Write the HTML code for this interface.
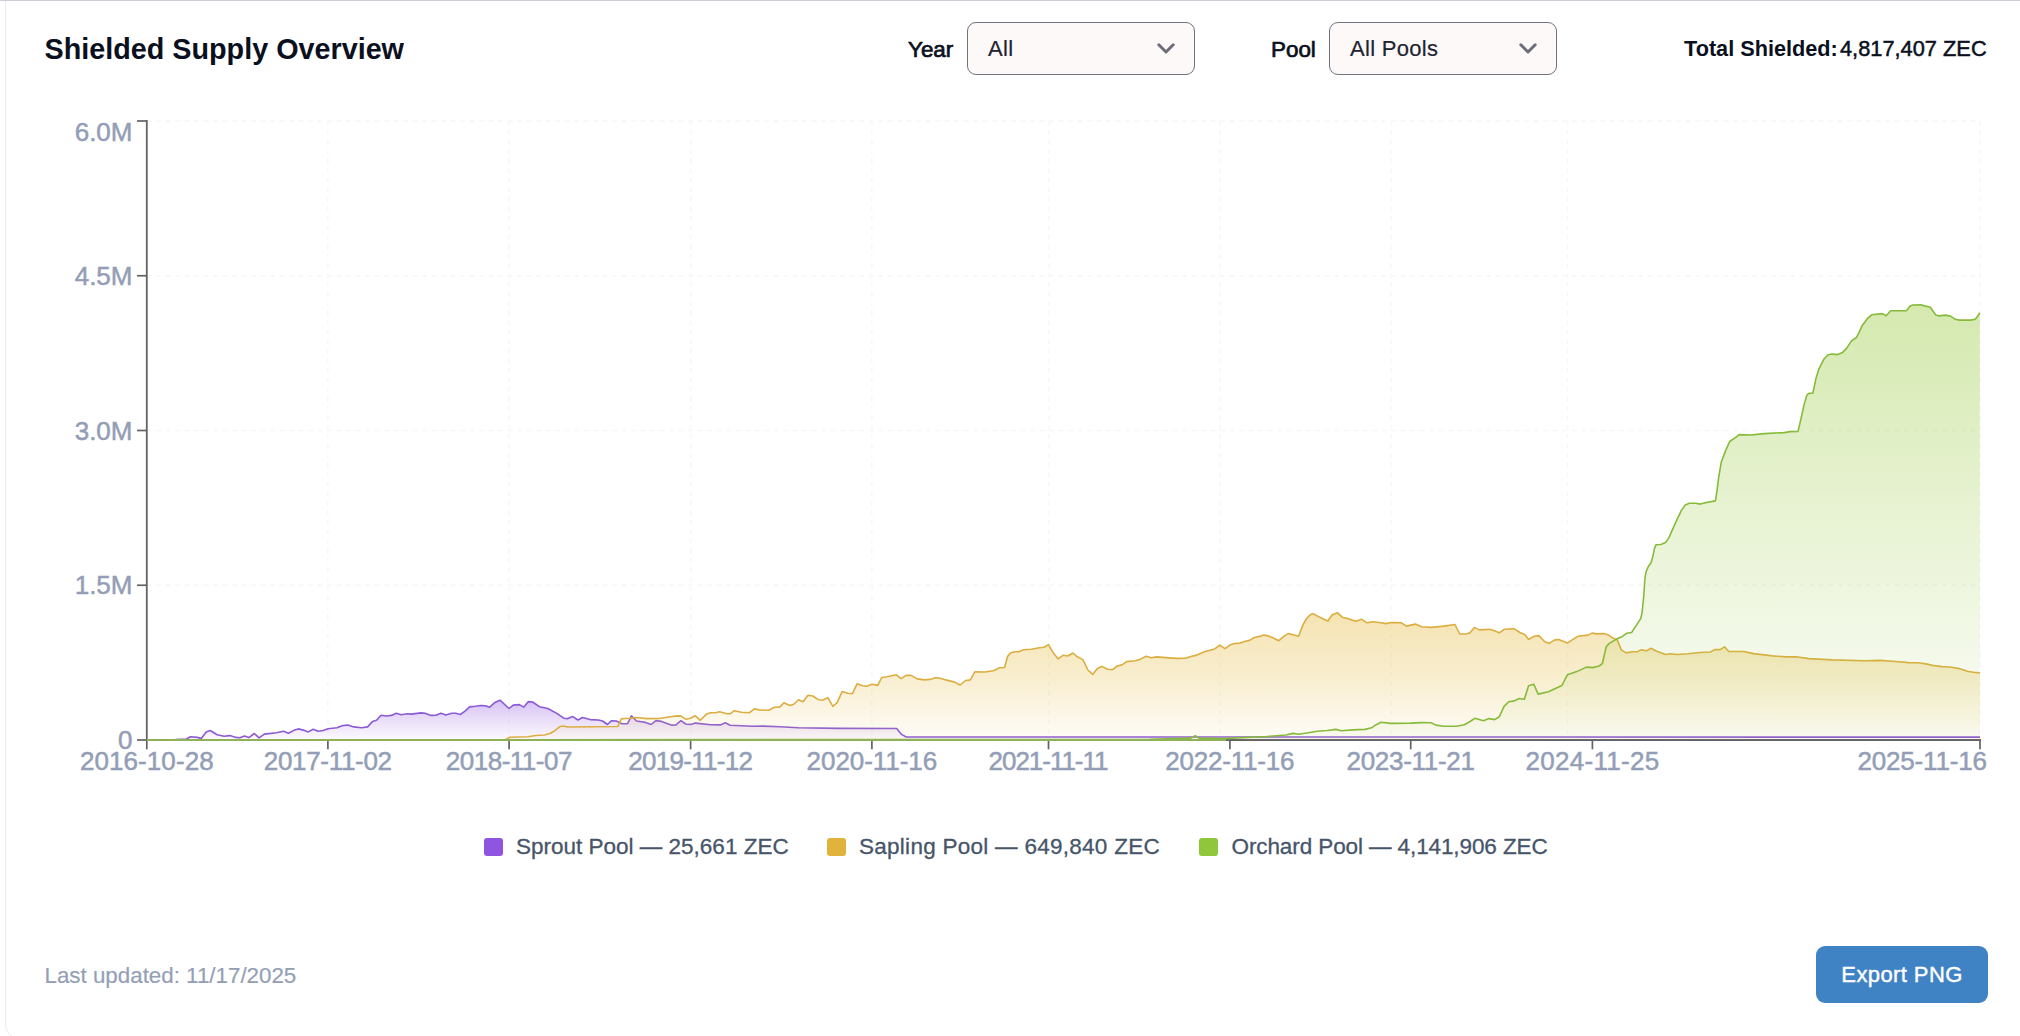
<!DOCTYPE html>
<html lang="en">
<head>
<meta charset="utf-8">
<title>Shielded Supply Overview</title>
<style>
html,body{margin:0;padding:0;background:#fff;}
body{width:2020px;height:1036px;position:relative;overflow:hidden;font-family:"Liberation Sans",Arial,sans-serif;color:#0f172a;}
.topline{position:absolute;left:0;top:0;width:2020px;height:1px;background:#cbcfd5;}
.card{position:absolute;left:5px;top:-20px;width:2100px;height:1059px;border:1px solid #ebecee;border-radius:0 0 0 14px;box-sizing:border-box;background:#fff;}
.chart{position:absolute;left:0;top:0;}
.chart text{font-family:"Liberation Sans",Arial,sans-serif;}
.t{position:absolute;white-space:nowrap;line-height:1;}
.title{left:44.5px;top:34.6px;font-size:28.75px;font-weight:700;color:#0b1020;}
.lbl{font-size:22.4px;font-weight:400;color:#0b1020;top:38.5px;-webkit-text-stroke:0.7px #0b1020;}
.sel{position:absolute;top:22px;height:53px;width:228px;box-sizing:border-box;border:1.3px solid #73737f;border-radius:9px;background:#fdf9f8;}
.sel span{position:absolute;left:20px;top:15px;font-size:22px;letter-spacing:0.3px;line-height:1;color:#1f2433;white-space:nowrap;-webkit-text-stroke:0.2px #1f2433;}
.sel svg{position:absolute;left:189.3px;top:20.4px;}
.total{top:38.1px;color:#0b1020;}
.tb{font-weight:700;font-size:21.7px;}
.tn{font-size:21.8px;-webkit-text-stroke:0.5px #0b1020;}
.leg{font-size:22.5px;color:#475569;top:836.3px;-webkit-text-stroke:0.3px #475569;}
.sq{position:absolute;top:838px;width:18.6px;height:18.2px;border-radius:3px;}
.upd{left:44.5px;top:964.6px;font-size:22.35px;color:#949fb6;-webkit-text-stroke:0.2px #949fb6;}
.btn{position:absolute;left:1816px;top:946px;width:172px;height:57px;border-radius:9px;background:#4083c5;color:#fff;font-size:22px;letter-spacing:0.4px;text-align:center;line-height:57px;-webkit-text-stroke:0.4px #fff;}
</style>
</head>
<body>
<div class="card"></div>
<div class="topline"></div>
<svg class="chart" width="2020" height="1036" viewBox="0 0 2020 1036">
<defs>
<linearGradient id="gp" x1="0" y1="0" x2="0" y2="1"><stop offset="0" stop-color="#9055e0" stop-opacity="0.36"/><stop offset="0.5" stop-color="#9055e0" stop-opacity="0.19"/><stop offset="1" stop-color="#9055e0" stop-opacity="0.03"/></linearGradient>
<linearGradient id="gy" x1="0" y1="0" x2="0" y2="1"><stop offset="0" stop-color="#e6bd48" stop-opacity="0.42"/><stop offset="0.5" stop-color="#e6bd48" stop-opacity="0.27"/><stop offset="1" stop-color="#e6bd48" stop-opacity="0.04"/></linearGradient>
<linearGradient id="gg" x1="0" y1="0" x2="0" y2="1"><stop offset="0" stop-color="#98c93c" stop-opacity="0.41"/><stop offset="0.5" stop-color="#98c93c" stop-opacity="0.22"/><stop offset="1" stop-color="#98c93c" stop-opacity="0.04"/></linearGradient>
</defs>
<g stroke="#f6f6f8" stroke-width="1.3" stroke-dasharray="4.5 5" fill="none">
<line x1="146.8" y1="121.0" x2="1980.0" y2="121.0"/>
<line x1="146.8" y1="275.75" x2="1980.0" y2="275.75"/>
<line x1="146.8" y1="430.5" x2="1980.0" y2="430.5"/>
<line x1="146.8" y1="585.25" x2="1980.0" y2="585.25"/>
<line x1="327.9" y1="121.0" x2="327.9" y2="740.0"/>
<line x1="509.1" y1="121.0" x2="509.1" y2="740.0"/>
<line x1="690.7" y1="121.0" x2="690.7" y2="740.0"/>
<line x1="871.9" y1="121.0" x2="871.9" y2="740.0"/>
<line x1="1048.9" y1="121.0" x2="1048.9" y2="740.0"/>
<line x1="1220.0" y1="121.0" x2="1220.0" y2="740.0"/>
<line x1="1391.1" y1="121.0" x2="1391.1" y2="740.0"/>
<line x1="1567.7" y1="121.0" x2="1567.7" y2="740.0"/>
<line x1="1979.7" y1="121.0" x2="1979.7" y2="740.0"/>
</g>
<g stroke="#636365" stroke-width="1.8" fill="none">
<line x1="146.8" y1="120.0" x2="146.8" y2="741.0"/>
<line x1="146.8" y1="740.0" x2="1981.0" y2="740.0"/>
<line x1="137.0" y1="121.0" x2="146.8" y2="121.0" stroke-width="1.7"/>
<line x1="137.0" y1="275.75" x2="146.8" y2="275.75" stroke-width="1.7"/>
<line x1="137.0" y1="430.5" x2="146.8" y2="430.5" stroke-width="1.7"/>
<line x1="137.0" y1="585.25" x2="146.8" y2="585.25" stroke-width="1.7"/>
<line x1="137.0" y1="740.0" x2="146.8" y2="740.0" stroke-width="1.7"/>
<line x1="146.8" y1="740.0" x2="146.8" y2="749.3" stroke-width="1.7"/>
<line x1="327.9" y1="740.0" x2="327.9" y2="749.3" stroke-width="1.7"/>
<line x1="509.1" y1="740.0" x2="509.1" y2="749.3" stroke-width="1.7"/>
<line x1="690.6" y1="740.0" x2="690.6" y2="749.3" stroke-width="1.7"/>
<line x1="871.9" y1="740.0" x2="871.9" y2="749.3" stroke-width="1.7"/>
<line x1="1048.5" y1="740.0" x2="1048.5" y2="749.3" stroke-width="1.7"/>
<line x1="1229.9" y1="740.0" x2="1229.9" y2="749.3" stroke-width="1.7"/>
<line x1="1410.7" y1="740.0" x2="1410.7" y2="749.3" stroke-width="1.7"/>
<line x1="1592.4" y1="740.0" x2="1592.4" y2="749.3" stroke-width="1.7"/>
<line x1="1980.0" y1="740.0" x2="1980.0" y2="749.3" stroke-width="1.7"/>
</g>
<path d="M175.5,739.6 L186.4,739 L190.4,736.8 L197.3,737.4 L201.3,738.4 L206.2,732.1 L210.2,730.5 L217.1,734.7 L224.1,736.2 L230,735.6 L235.9,737.4 L239.9,737.8 L244.5,736 L248.8,737.6 L254.4,733.5 L259.1,737.8 L264.3,734.1 L276.5,732.7 L283.5,731.3 L288.4,733.3 L294.4,730.1 L298.3,728.9 L303.3,730.1 L308.2,731.9 L313.2,729.3 L318.1,731.3 L323.1,730.5 L328,728.7 L336.9,727.7 L342.9,725.5 L347.8,725.1 L353.8,726.9 L361.7,727.7 L367.6,726.9 L372.6,721.4 L376.5,720.2 L381.1,715.2 L386.4,716 L391.4,715.4 L396.3,713.3 L401.3,714.7 L407.2,713.7 L411.2,714.1 L421.1,712.9 L425,713.3 L431,715.4 L435.9,715.2 L440.9,713.3 L445.8,715 L451.8,713.3 L455.7,713.3 L460.3,714.5 L464.7,711.3 L469.6,706.9 L475.5,706.3 L480.5,705.5 L485.4,705.7 L489.4,707.3 L494.4,702.8 L500,700.2 L509,708.5 L513.2,705.1 L519.4,704.6 L523.8,707.1 L528.4,701.6 L532.6,702 L539.5,706.7 L547.8,708.5 L556.8,713.4 L563.8,718.2 L567.9,718.6 L572.8,716.6 L577.9,720 L582.5,717.5 L590.1,719.6 L598.4,720 L602.6,721 L607.4,724.5 L611.6,720.7 L616.4,721 L622,723.8 L627.5,723.8 L631.4,715.9 L636.5,721 L645.6,722.4 L651.1,724.5 L655.9,720.6 L661.5,721.4 L671.9,725.2 L676,724.9 L680.9,720.7 L685.7,724 L690.6,724.5 L695.5,723.1 L710.7,724.7 L720.4,724.9 L725.3,722.7 L730.1,725.2 L752.3,726.3 L763.4,726.1 L780,726.7 L798.5,727.7 L838.1,728.4 L896.7,728.5 L901.5,734.4 L906.2,737 L1090,737 L1980,737.1 L1980,740.0 L175.5,740.0 Z" fill="url(#gp)" stroke="none"/>
<path d="M175.5,739.6 L186.4,739 L190.4,736.8 L197.3,737.4 L201.3,738.4 L206.2,732.1 L210.2,730.5 L217.1,734.7 L224.1,736.2 L230,735.6 L235.9,737.4 L239.9,737.8 L244.5,736 L248.8,737.6 L254.4,733.5 L259.1,737.8 L264.3,734.1 L276.5,732.7 L283.5,731.3 L288.4,733.3 L294.4,730.1 L298.3,728.9 L303.3,730.1 L308.2,731.9 L313.2,729.3 L318.1,731.3 L323.1,730.5 L328,728.7 L336.9,727.7 L342.9,725.5 L347.8,725.1 L353.8,726.9 L361.7,727.7 L367.6,726.9 L372.6,721.4 L376.5,720.2 L381.1,715.2 L386.4,716 L391.4,715.4 L396.3,713.3 L401.3,714.7 L407.2,713.7 L411.2,714.1 L421.1,712.9 L425,713.3 L431,715.4 L435.9,715.2 L440.9,713.3 L445.8,715 L451.8,713.3 L455.7,713.3 L460.3,714.5 L464.7,711.3 L469.6,706.9 L475.5,706.3 L480.5,705.5 L485.4,705.7 L489.4,707.3 L494.4,702.8 L500,700.2 L509,708.5 L513.2,705.1 L519.4,704.6 L523.8,707.1 L528.4,701.6 L532.6,702 L539.5,706.7 L547.8,708.5 L556.8,713.4 L563.8,718.2 L567.9,718.6 L572.8,716.6 L577.9,720 L582.5,717.5 L590.1,719.6 L598.4,720 L602.6,721 L607.4,724.5 L611.6,720.7 L616.4,721 L622,723.8 L627.5,723.8 L631.4,715.9 L636.5,721 L645.6,722.4 L651.1,724.5 L655.9,720.6 L661.5,721.4 L671.9,725.2 L676,724.9 L680.9,720.7 L685.7,724 L690.6,724.5 L695.5,723.1 L710.7,724.7 L720.4,724.9 L725.3,722.7 L730.1,725.2 L752.3,726.3 L763.4,726.1 L780,726.7 L798.5,727.7 L838.1,728.4 L896.7,728.5 L901.5,734.4 L906.2,737 L1090,737 L1980,737.1" fill="none" stroke="#8c5ad6" stroke-width="1.6" stroke-linejoin="round" stroke-linecap="butt"/>
<path d="M505.5,739.8 L509.7,737.2 L527.7,736.7 L536,735.5 L544.4,735 L549.9,733.5 L554.8,730.7 L559.6,726.8 L563.1,726 L567.9,727 L617.8,726.5 L619.5,723.1 L621.3,718.9 L624.8,718.5 L630.3,718.2 L635.8,717.5 L646.9,718.6 L659.4,718.5 L670.5,716.8 L677.4,715.9 L680.9,716.1 L685.7,719.2 L690.6,718.2 L695.2,715.7 L700.3,720.3 L706.5,714.1 L710.7,712.7 L715.6,712.7 L719.7,711.7 L725.9,713.6 L730.1,713.8 L734.3,710.7 L741.2,712.3 L749.5,712.7 L754.4,708.8 L759.2,709.9 L768.9,710.3 L773.8,707.5 L780,706.9 L783.9,702.7 L789.8,705.5 L793.8,704.3 L798.5,699.7 L803,701.7 L808,695.2 L812.8,696 L818.3,699.7 L823.1,700 L827.8,697.6 L832.9,706.3 L837.3,702.4 L842.1,691.6 L847.6,693.2 L852.4,693.7 L857.1,683.8 L862.7,685.7 L866.6,686.2 L872.2,684.2 L877.7,685.4 L881.7,677.5 L887.2,676.7 L896.3,674.8 L901.2,678.6 L906.2,675.4 L911,675.4 L917.3,678.9 L924.5,679.9 L930,679.4 L935.5,677.8 L940.3,678.3 L945.8,679.9 L954.6,682.1 L960.1,685 L965.6,680.5 L970.4,679.9 L974.8,671.8 L984.7,672 L993.4,670.7 L999.7,667.8 L1004.5,667.5 L1007.6,656.4 L1010.8,652.8 L1014.8,651.7 L1018.7,651.7 L1023.5,649.8 L1031.4,649.3 L1039.3,647.7 L1044.1,647.2 L1048.5,644.6 L1053.6,653.3 L1058,658.8 L1063.1,655.3 L1067.8,656 L1072.9,653 L1077.3,656.8 L1082.9,659.6 L1087.9,670 L1092.7,674.4 L1097.4,668.4 L1101.9,666.4 L1107.7,669.2 L1112.5,669.7 L1117.2,666 L1122,664.9 L1126.7,661.6 L1135.4,660.8 L1141,658.9 L1146.1,656.2 L1151.3,657.8 L1156.8,656.9 L1165.5,657.6 L1176.6,658.4 L1185.3,658.3 L1190.9,656.5 L1195.6,655.4 L1205.1,651.5 L1214.7,648.9 L1219.7,645.1 L1225,648.6 L1230.5,644.7 L1235.2,643.4 L1240,643.1 L1245.5,641.2 L1249.5,640.4 L1254.3,637.5 L1259.8,636.4 L1263.8,635.1 L1268.5,635.9 L1273.3,638 L1278.8,640.7 L1284.4,635.9 L1288.3,633.6 L1293.9,635.1 L1298.6,636.3 L1302.6,625.6 L1306.5,618.5 L1310.5,614.6 L1313.2,613.8 L1317.6,616.1 L1322.4,618.5 L1327.9,621 L1331.9,615 L1337.4,612.7 L1342.2,617.2 L1347.7,618.5 L1355.6,621.2 L1361.7,619.3 L1367,622.8 L1373.1,621.7 L1379.4,622.5 L1385.7,623.6 L1391.3,622.5 L1401.1,622.8 L1406.6,626.1 L1415.3,624.1 L1421.7,626.8 L1431.2,627.4 L1443.9,626.1 L1455,624.5 L1459.7,634 L1466,634 L1470,632.8 L1474.4,627.4 L1479.5,629.9 L1489.8,629.3 L1494.6,630.7 L1499.3,632.8 L1504.1,629.3 L1514.4,628.8 L1519.9,632.5 L1524.7,634.4 L1528.6,639.4 L1534.2,636.3 L1538.9,635.6 L1544.5,641.5 L1549.2,643.4 L1554.8,639.9 L1558.7,639.6 L1567.4,643.1 L1572.2,639.9 L1577.7,636.3 L1588,635.1 L1592,633.1 L1596.7,633.9 L1603.9,633.6 L1608.6,635.1 L1613.4,638.3 L1617.3,639.9 L1621.3,649.9 L1626,652.9 L1632.4,651.8 L1637.1,651.8 L1641.1,649.9 L1646.6,650.7 L1651.1,648.3 L1656.1,651 L1665.6,654.5 L1670.4,653.7 L1676.7,654.5 L1687.8,653.8 L1699.5,652.5 L1710.6,652 L1714.6,649.6 L1720.1,649.6 L1724.5,646.8 L1728.8,651.5 L1743.9,651.5 L1753.4,653.6 L1772.4,655.9 L1786.6,656.9 L1796.1,656.7 L1808.8,658.6 L1832.6,659.9 L1864.3,660.7 L1880.1,660.4 L1895.9,661.5 L1908.6,662.6 L1918.1,662.8 L1926,663.9 L1932.4,665.4 L1941.9,666.6 L1949.8,667 L1959.3,668.6 L1967.2,671.3 L1973.6,672.3 L1979.9,672.9 L1979.9,740.0 L505.5,740.0 Z" fill="url(#gy)" stroke="none"/>
<path d="M505.5,739.8 L509.7,737.2 L527.7,736.7 L536,735.5 L544.4,735 L549.9,733.5 L554.8,730.7 L559.6,726.8 L563.1,726 L567.9,727 L617.8,726.5 L619.5,723.1 L621.3,718.9 L624.8,718.5 L630.3,718.2 L635.8,717.5 L646.9,718.6 L659.4,718.5 L670.5,716.8 L677.4,715.9 L680.9,716.1 L685.7,719.2 L690.6,718.2 L695.2,715.7 L700.3,720.3 L706.5,714.1 L710.7,712.7 L715.6,712.7 L719.7,711.7 L725.9,713.6 L730.1,713.8 L734.3,710.7 L741.2,712.3 L749.5,712.7 L754.4,708.8 L759.2,709.9 L768.9,710.3 L773.8,707.5 L780,706.9 L783.9,702.7 L789.8,705.5 L793.8,704.3 L798.5,699.7 L803,701.7 L808,695.2 L812.8,696 L818.3,699.7 L823.1,700 L827.8,697.6 L832.9,706.3 L837.3,702.4 L842.1,691.6 L847.6,693.2 L852.4,693.7 L857.1,683.8 L862.7,685.7 L866.6,686.2 L872.2,684.2 L877.7,685.4 L881.7,677.5 L887.2,676.7 L896.3,674.8 L901.2,678.6 L906.2,675.4 L911,675.4 L917.3,678.9 L924.5,679.9 L930,679.4 L935.5,677.8 L940.3,678.3 L945.8,679.9 L954.6,682.1 L960.1,685 L965.6,680.5 L970.4,679.9 L974.8,671.8 L984.7,672 L993.4,670.7 L999.7,667.8 L1004.5,667.5 L1007.6,656.4 L1010.8,652.8 L1014.8,651.7 L1018.7,651.7 L1023.5,649.8 L1031.4,649.3 L1039.3,647.7 L1044.1,647.2 L1048.5,644.6 L1053.6,653.3 L1058,658.8 L1063.1,655.3 L1067.8,656 L1072.9,653 L1077.3,656.8 L1082.9,659.6 L1087.9,670 L1092.7,674.4 L1097.4,668.4 L1101.9,666.4 L1107.7,669.2 L1112.5,669.7 L1117.2,666 L1122,664.9 L1126.7,661.6 L1135.4,660.8 L1141,658.9 L1146.1,656.2 L1151.3,657.8 L1156.8,656.9 L1165.5,657.6 L1176.6,658.4 L1185.3,658.3 L1190.9,656.5 L1195.6,655.4 L1205.1,651.5 L1214.7,648.9 L1219.7,645.1 L1225,648.6 L1230.5,644.7 L1235.2,643.4 L1240,643.1 L1245.5,641.2 L1249.5,640.4 L1254.3,637.5 L1259.8,636.4 L1263.8,635.1 L1268.5,635.9 L1273.3,638 L1278.8,640.7 L1284.4,635.9 L1288.3,633.6 L1293.9,635.1 L1298.6,636.3 L1302.6,625.6 L1306.5,618.5 L1310.5,614.6 L1313.2,613.8 L1317.6,616.1 L1322.4,618.5 L1327.9,621 L1331.9,615 L1337.4,612.7 L1342.2,617.2 L1347.7,618.5 L1355.6,621.2 L1361.7,619.3 L1367,622.8 L1373.1,621.7 L1379.4,622.5 L1385.7,623.6 L1391.3,622.5 L1401.1,622.8 L1406.6,626.1 L1415.3,624.1 L1421.7,626.8 L1431.2,627.4 L1443.9,626.1 L1455,624.5 L1459.7,634 L1466,634 L1470,632.8 L1474.4,627.4 L1479.5,629.9 L1489.8,629.3 L1494.6,630.7 L1499.3,632.8 L1504.1,629.3 L1514.4,628.8 L1519.9,632.5 L1524.7,634.4 L1528.6,639.4 L1534.2,636.3 L1538.9,635.6 L1544.5,641.5 L1549.2,643.4 L1554.8,639.9 L1558.7,639.6 L1567.4,643.1 L1572.2,639.9 L1577.7,636.3 L1588,635.1 L1592,633.1 L1596.7,633.9 L1603.9,633.6 L1608.6,635.1 L1613.4,638.3 L1617.3,639.9 L1621.3,649.9 L1626,652.9 L1632.4,651.8 L1637.1,651.8 L1641.1,649.9 L1646.6,650.7 L1651.1,648.3 L1656.1,651 L1665.6,654.5 L1670.4,653.7 L1676.7,654.5 L1687.8,653.8 L1699.5,652.5 L1710.6,652 L1714.6,649.6 L1720.1,649.6 L1724.5,646.8 L1728.8,651.5 L1743.9,651.5 L1753.4,653.6 L1772.4,655.9 L1786.6,656.9 L1796.1,656.7 L1808.8,658.6 L1832.6,659.9 L1864.3,660.7 L1880.1,660.4 L1895.9,661.5 L1908.6,662.6 L1918.1,662.8 L1926,663.9 L1932.4,665.4 L1941.9,666.6 L1949.8,667 L1959.3,668.6 L1967.2,671.3 L1973.6,672.3 L1979.9,672.9" fill="none" stroke="#dcae40" stroke-width="1.6" stroke-linejoin="round" stroke-linecap="butt"/>
<path d="M146.8,740 L1149.7,739.4 L1190.9,738.1 L1195.3,735.7 L1198.8,738.1 L1222.6,738.6 L1266.9,736.5 L1285.9,735 L1293.1,733.4 L1298.6,734.2 L1317.6,731.3 L1327.1,730.5 L1335.8,729.4 L1341.4,730.7 L1352.5,729.9 L1365.1,729.4 L1371.5,727.8 L1376.2,724.7 L1381,722.3 L1388.9,723.1 L1390,723.4 L1410.6,723.1 L1421.7,722.6 L1431.2,722.8 L1435.9,725.1 L1443.9,726.2 L1456.5,726.2 L1464.5,724.7 L1470,721.5 L1474.8,718.3 L1483.5,720.7 L1489,718.6 L1494.6,719.6 L1499.3,716.7 L1504.1,706.4 L1508.8,701.7 L1514.4,700.9 L1519.1,698.5 L1524.3,699.3 L1528.6,685.8 L1533.8,684.3 L1538.1,694.1 L1548.4,691.7 L1554.8,688.7 L1561.9,685.5 L1567.4,674.8 L1576.9,671.6 L1586.4,667.1 L1592.8,667.6 L1599.1,666 L1602.3,663.7 L1606.2,647 L1608.6,643.9 L1616.5,639.1 L1622.1,636.7 L1626.8,633.2 L1631.6,632.5 L1637.1,624.1 L1640.7,618.6 L1642.1,612.6 L1643.7,596.7 L1645,577.7 L1646.2,571.4 L1648.1,567 L1651,562.7 L1652.9,556.3 L1654.5,548.4 L1656,544.8 L1660.8,544.5 L1665.5,542.6 L1668.7,538.1 L1675,523.9 L1681.4,510.4 L1685.3,504.9 L1689.3,503.3 L1695.6,503.3 L1700.4,504.1 L1705.1,502.8 L1715.4,500.9 L1717,490.6 L1718.6,477.9 L1721.2,462.3 L1725.7,450.4 L1729.7,441.5 L1734.7,438.1 L1739.2,434.6 L1750.5,435 L1764.4,433.6 L1784.2,432.6 L1790.1,431.6 L1798,431.4 L1801,418.7 L1804,404.9 L1806.9,395 L1808.9,393.4 L1812.9,393 L1815.8,379.1 L1818.8,369.2 L1823.8,359.3 L1827.7,355 L1831.7,354 L1837.6,354.6 L1842.6,352.4 L1846.5,348.4 L1851.5,340.9 L1856.4,337.5 L1859.4,331.6 L1862.4,325.2 L1867.3,318.7 L1871.7,314.8 L1882.2,313.6 L1886.1,315.7 L1890.7,310.8 L1906.5,310.6 L1909.9,306.2 L1912.9,305 L1920.8,304.9 L1930.3,307.2 L1935.6,314.8 L1939,315.9 L1945.5,315.1 L1950.5,316.1 L1955.4,319.3 L1959.4,320.1 L1970.3,320.1 L1975.2,319.3 L1977.2,316.7 L1979.8,312.8 L1979.8,740.0 L146.8,740.0 Z" fill="url(#gg)" stroke="none"/>
<path d="M146.8,740 L1149.7,739.4 L1190.9,738.1 L1195.3,735.7 L1198.8,738.1 L1222.6,738.6 L1266.9,736.5 L1285.9,735 L1293.1,733.4 L1298.6,734.2 L1317.6,731.3 L1327.1,730.5 L1335.8,729.4 L1341.4,730.7 L1352.5,729.9 L1365.1,729.4 L1371.5,727.8 L1376.2,724.7 L1381,722.3 L1388.9,723.1 L1390,723.4 L1410.6,723.1 L1421.7,722.6 L1431.2,722.8 L1435.9,725.1 L1443.9,726.2 L1456.5,726.2 L1464.5,724.7 L1470,721.5 L1474.8,718.3 L1483.5,720.7 L1489,718.6 L1494.6,719.6 L1499.3,716.7 L1504.1,706.4 L1508.8,701.7 L1514.4,700.9 L1519.1,698.5 L1524.3,699.3 L1528.6,685.8 L1533.8,684.3 L1538.1,694.1 L1548.4,691.7 L1554.8,688.7 L1561.9,685.5 L1567.4,674.8 L1576.9,671.6 L1586.4,667.1 L1592.8,667.6 L1599.1,666 L1602.3,663.7 L1606.2,647 L1608.6,643.9 L1616.5,639.1 L1622.1,636.7 L1626.8,633.2 L1631.6,632.5 L1637.1,624.1 L1640.7,618.6 L1642.1,612.6 L1643.7,596.7 L1645,577.7 L1646.2,571.4 L1648.1,567 L1651,562.7 L1652.9,556.3 L1654.5,548.4 L1656,544.8 L1660.8,544.5 L1665.5,542.6 L1668.7,538.1 L1675,523.9 L1681.4,510.4 L1685.3,504.9 L1689.3,503.3 L1695.6,503.3 L1700.4,504.1 L1705.1,502.8 L1715.4,500.9 L1717,490.6 L1718.6,477.9 L1721.2,462.3 L1725.7,450.4 L1729.7,441.5 L1734.7,438.1 L1739.2,434.6 L1750.5,435 L1764.4,433.6 L1784.2,432.6 L1790.1,431.6 L1798,431.4 L1801,418.7 L1804,404.9 L1806.9,395 L1808.9,393.4 L1812.9,393 L1815.8,379.1 L1818.8,369.2 L1823.8,359.3 L1827.7,355 L1831.7,354 L1837.6,354.6 L1842.6,352.4 L1846.5,348.4 L1851.5,340.9 L1856.4,337.5 L1859.4,331.6 L1862.4,325.2 L1867.3,318.7 L1871.7,314.8 L1882.2,313.6 L1886.1,315.7 L1890.7,310.8 L1906.5,310.6 L1909.9,306.2 L1912.9,305 L1920.8,304.9 L1930.3,307.2 L1935.6,314.8 L1939,315.9 L1945.5,315.1 L1950.5,316.1 L1955.4,319.3 L1959.4,320.1 L1970.3,320.1 L1975.2,319.3 L1977.2,316.7 L1979.8,312.8" fill="none" stroke="#86bb3a" stroke-width="1.6" stroke-linejoin="round" stroke-linecap="butt"/>
<line x1="146.8" y1="740.0" x2="1226" y2="740.0" stroke="#8fb158" stroke-width="2"/>
<g class="ax" fill="#939eb6" stroke="#939eb6" stroke-width="0.5" font-size="26px">
<text x="132.5" y="141.0" text-anchor="end">6.0M</text>
<text x="132.5" y="284.8" text-anchor="end">4.5M</text>
<text x="132.5" y="439.59999999999997" text-anchor="end">3.0M</text>
<text x="132.5" y="594.3000000000001" text-anchor="end">1.5M</text>
<text x="132.5" y="749.1" text-anchor="end">0</text>
<text x="79.95" y="769.9" textLength="133.7" lengthAdjust="spacing">2016-10-28</text>
<text x="263.75" y="769.9" textLength="128.3" lengthAdjust="spacing">2017-11-02</text>
<text x="445.7" y="769.9" textLength="126.8" lengthAdjust="spacing">2018-11-07</text>
<text x="628.2" y="769.9" textLength="124.8" lengthAdjust="spacing">2019-11-12</text>
<text x="806.55" y="769.9" textLength="130.7" lengthAdjust="spacing">2020-11-16</text>
<text x="988.55" y="769.9" textLength="119.9" lengthAdjust="spacing">2021-11-11</text>
<text x="1165.25" y="769.9" textLength="129.3" lengthAdjust="spacing">2022-11-16</text>
<text x="1346.55" y="769.9" textLength="128.3" lengthAdjust="spacing">2023-11-21</text>
<text x="1525.6" y="769.9" textLength="133.6" lengthAdjust="spacing">2024-11-25</text>
<text x="1857.4" y="769.9" textLength="129.6" lengthAdjust="spacing">2025-11-16</text>
</g>
</svg>
<div class="t title">Shielded Supply Overview</div>
<div class="t lbl" style="left:908px">Year</div>
<div class="sel" style="left:967px"><span>All</span><svg width="18" height="12" viewBox="0 0 18 12"><path d="M1.8 1.8 L9 9 L16.2 1.8" fill="none" stroke="#6d6d79" stroke-width="3" stroke-linecap="round" stroke-linejoin="round"/></svg></div>
<div class="t lbl" style="left:1271px">Pool</div>
<div class="sel" style="left:1329px"><span>All Pools</span><svg width="18" height="12" viewBox="0 0 18 12"><path d="M1.8 1.8 L9 9 L16.2 1.8" fill="none" stroke="#6d6d79" stroke-width="3" stroke-linecap="round" stroke-linejoin="round"/></svg></div>
<div class="t total tb" style="left:1684px">Total Shielded:</div>
<div class="t total tn" style="left:1840px">4,817,407 ZEC</div>
<div class="sq" style="left:484.2px;background:#9055e0"></div>
<div class="t leg" style="left:516px">Sprout Pool — 25,661 ZEC</div>
<div class="sq" style="left:827.3px;background:#e1b23c"></div>
<div class="t leg" style="left:859px;letter-spacing:0.27px">Sapling Pool — 649,840 ZEC</div>
<div class="sq" style="left:1199px;background:#8ec63c"></div>
<div class="t leg" style="left:1231.5px;letter-spacing:-0.1px">Orchard Pool — 4,141,906 ZEC</div>
<div class="t upd">Last updated: 11/17/2025</div>
<div class="btn"><span class="t" style="position:static">Export PNG</span></div>
</body>
</html>
